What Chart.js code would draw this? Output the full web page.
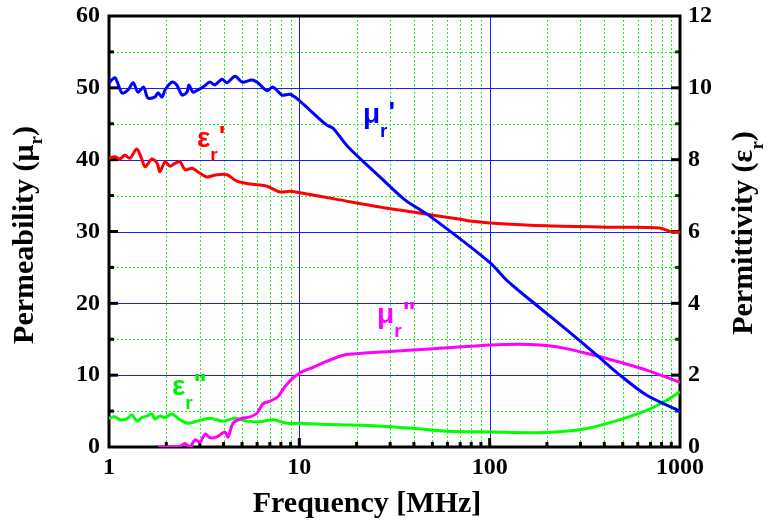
<!DOCTYPE html>
<html>
<head>
<meta charset="utf-8">
<script src="https://cdn.jsdelivr.net/npm/chart.js@4.4.0/dist/chart.umd.min.js"></script>
<style>
  html, body { margin: 0; padding: 0; background: #fff; }
  #wrap { width: 769px; height: 524px; position: relative; }
</style>
</head>
<body>
<div id="wrap"><canvas id="chart"></canvas></div>
<script>
// frequency in MHz
const muRealFreq = [1.0, 1.075, 1.17, 1.26, 1.34, 1.42, 1.52, 1.6, 1.74, 1.81, 1.9, 1.97, 2.14, 2.27, 2.42, 2.57, 2.63, 2.76, 2.93, 3.12, 3.39, 3.6, 3.92, 4.17, 4.59, 5.0, 5.64, 6.06, 6.76, 7.27, 8.1, 8.92, 9.83, 11.35, 13.96, 15.0, 18.0, 26.5, 35.9, 48.7, 100, 123, 177, 254, 365, 484, 669, 1000];
const muRealVals = [50.7, 51.4, 49.3, 49.7, 50.7, 49.4, 50.1, 48.6, 48.7, 49.3, 48.7, 49.7, 50.8, 50.4, 49.0, 49.4, 50.4, 49.4, 49.7, 50.1, 50.8, 50.4, 51.2, 50.7, 51.6, 50.8, 51.1, 50.7, 49.6, 50.1, 49.0, 49.1, 48.4, 46.9, 44.8, 44.4, 41.8, 37.6, 34.4, 32.1, 25.7, 23.2, 19.7, 16.3, 12.8, 10.0, 7.2, 5.0];

const muImagFreq = [1.81, 2.09, 2.36, 2.51, 2.66, 2.83, 3.01, 3.2, 3.39, 3.69, 4.06, 4.22, 4.48, 4.88, 5.51, 5.99, 6.44, 7.02, 7.72, 8.4, 9.24, 10.07, 11.8, 13.3, 15.8, 18.0, 29.9, 39.5, 59.8, 100.6, 144, 183, 242, 350, 484, 669, 1000];
const muImagVals = [0, 0, 0.1, 0.5, 0, 1.0, 0.7, 1.8, 1.3, 1.4, 2.1, 1.4, 3.3, 3.9, 4.2, 4.7, 6.0, 6.4, 7.0, 8.4, 9.6, 10.3, 11.1, 11.7, 12.5, 12.9, 13.3, 13.5, 13.8, 14.2, 14.3, 14.2, 13.8, 12.8, 11.8, 10.7, 9.0];

const epsRealFreq = [1.0, 1.075, 1.14, 1.21, 1.29, 1.4, 1.49, 1.55, 1.68, 1.79, 1.85, 1.97, 2.09, 2.22, 2.36, 2.51, 2.73, 3.01, 3.27, 3.69, 4.17, 4.7, 5.51, 6.76, 7.92, 8.92, 10.07, 16.3, 26.5, 39.5, 70, 78.9, 100, 201, 443, 780, 910, 1000];
const epsRealVals = [8.04, 8.08, 8.02, 8.12, 8.04, 8.3, 8.0, 7.8, 8.02, 7.9, 7.66, 7.94, 7.82, 7.9, 7.94, 7.72, 7.76, 7.62, 7.52, 7.58, 7.58, 7.4, 7.32, 7.26, 7.1, 7.12, 7.08, 6.88, 6.68, 6.54, 6.34, 6.29, 6.24, 6.16, 6.12, 6.1, 5.98, 5.98];

const epsImagFreq = [1.0, 1.075, 1.14, 1.24, 1.32, 1.4, 1.49, 1.58, 1.68, 1.74, 1.85, 1.97, 2.14, 2.36, 2.6, 2.9, 3.39, 3.97, 4.59, 5.31, 6.22, 7.27, 8.63, 10.07, 12.4, 16.3, 26.5, 39.5, 59.8, 100.6, 183, 298, 443, 669, 852, 1000];
const epsImagVals = [0.8, 0.84, 0.76, 0.78, 0.9, 0.72, 0.82, 0.86, 0.92, 0.78, 0.86, 0.82, 0.92, 0.76, 0.66, 0.72, 0.8, 0.72, 0.8, 0.72, 0.7, 0.76, 0.66, 0.66, 0.64, 0.62, 0.58, 0.52, 0.44, 0.42, 0.4, 0.48, 0.7, 1.02, 1.3, 1.54];

const xTicks = [1, 10, 100, 1000];

// curve labels, placed in data coordinates of the left axis
const notes = [
  { base: 'μ', sub: 'r', sup: "'", color: '#0000ff', x: 21.6, y: 45.1 },
  { base: 'ε', sub: 'r', sup: "'", color: '#ff0000', x: 2.9, y: 41.8 },
  { base: 'μ', sub: 'r', sup: '"', color: '#ff00ff', x: 25.6, y: 17.3 },
  { base: 'ε', sub: 'r', sup: '"', color: '#00ee00', x: 2.14, y: 7.24 }
];

const pts = (xs, ys) => xs.map((x, i) => ({ x: x, y: ys[i] }));
const SERIF = '"Liberation Serif", "Times New Roman", serif';
const SANS = '"Liberation Sans", Arial, sans-serif';

function richText(ctx, parts, x, y) {
  let cx = x;
  parts.forEach(p => {
    ctx.font = p.font;
    ctx.fillText(p.t, cx + (p.dx || 0), y + (p.dy || 0));
    cx += ctx.measureText(p.t).width + (p.dx || 0);
  });
}
function richWidth(ctx, parts) {
  let w = 0;
  parts.forEach(p => { ctx.font = p.font; w += ctx.measureText(p.t).width + (p.dx || 0); });
  return w;
}

// grid, frame and inward ticks go under the curves, titles and labels on top
const framePlugin = {
  id: 'frame',
  beforeDatasetsDraw(chart) {
    const { ctx, chartArea: a, scales } = chart;
    const xs = scales.x, ys = scales.y, y2 = scales.y2;
    ctx.save();
    ctx.lineWidth = 1;
    // minor grid, green dotted
    ctx.strokeStyle = '#22ee22';
    ctx.setLineDash([2, 2]);
    [1, 10, 100].forEach(d => {
      for (let k = 2; k <= 9; k++) {
        const px = Math.round(xs.getPixelForValue(d * k)) + 0.5;
        ctx.beginPath(); ctx.moveTo(px, a.top); ctx.lineTo(px, a.bottom); ctx.stroke();
      }
    });
    for (let v = 5; v < 60; v += 10) {
      const py = Math.round(ys.getPixelForValue(v)) + 0.5;
      ctx.beginPath(); ctx.moveTo(a.left, py); ctx.lineTo(a.right, py); ctx.stroke();
    }
    // major grid, blue solid
    ctx.setLineDash([]);
    ctx.strokeStyle = '#1a1aff';
    [10, 100].forEach(v => {
      const px = Math.round(xs.getPixelForValue(v)) + 0.5;
      ctx.beginPath(); ctx.moveTo(px, a.top); ctx.lineTo(px, a.bottom); ctx.stroke();
    });
    for (let v = 10; v < 60; v += 10) {
      const py = Math.round(ys.getPixelForValue(v)) + 0.5;
      ctx.beginPath(); ctx.moveTo(a.left, py); ctx.lineTo(a.right, py); ctx.stroke();
    }

    ctx.strokeStyle = '#000';
    ctx.lineWidth = 3;
    for (let v = 5; v < 60; v += 5) {
      const py = ys.getPixelForValue(v), len = v % 10 === 0 ? 9 : 5;
      ctx.beginPath(); ctx.moveTo(a.left, py); ctx.lineTo(a.left + len, py); ctx.stroke();
    }
    [1, 10, 100].forEach(d => {
      for (let k = 1; k <= 9; k++) {
        if (d * k === 1) continue;
        const px = xs.getPixelForValue(d * k), len = k === 1 ? 9 : 5;
        ctx.beginPath(); ctx.moveTo(px, a.bottom); ctx.lineTo(px, a.bottom - len); ctx.stroke();
      }
    });
    for (let v = 1; v < 12; v++) {
      const py = y2.getPixelForValue(v);
      ctx.strokeStyle = v % 2 === 0 ? '#000' : '#0a4a0a';
      const len = v % 2 === 0 ? 9 : 5;
      ctx.beginPath(); ctx.moveTo(a.right, py); ctx.lineTo(a.right - len, py); ctx.stroke();
    }
    ctx.strokeStyle = '#000';
    ctx.strokeRect(a.left, a.top, a.right - a.left, a.bottom - a.top);
    ctx.restore();
  },
  afterDraw(chart) {
    const { ctx, scales } = chart;
    ctx.save();
    ctx.fillStyle = '#000';
    ctx.textBaseline = 'alphabetic';
    ctx.textAlign = 'left';
    const big = 'bold 30px ' + SERIF, small = 'bold 19px ' + SERIF;
    // x title
    const xt = [{ t: 'Frequency [MHz]', font: big }];
    richText(ctx, xt, 367 - richWidth(ctx, xt) / 2, 512);
    // left title
    const lt = [{ t: 'Permeability (μ', font: big }, { t: 'r', font: small, dy: 9 }, { t: ')', font: big }];
    ctx.save();
    ctx.translate(33, 235); ctx.rotate(-Math.PI / 2);
    richText(ctx, lt, -richWidth(ctx, lt) / 2, 0);
    ctx.restore();
    // right title
    const rt = [{ t: 'Permittivity (ε', font: big }, { t: 'r', font: small, dy: 11 }, { t: ')', font: big }];
    ctx.save();
    ctx.translate(752, 233); ctx.rotate(-Math.PI / 2);
    richText(ctx, rt, -richWidth(ctx, rt) / 2, 0);
    ctx.restore();
    // curve labels
    notes.forEach(n => {
      ctx.fillStyle = n.color;
      const px = scales.x.getPixelForValue(n.x), py = scales.y.getPixelForValue(n.y);
      richText(ctx, [
        { t: n.base, font: 'bold 28px ' + SANS },
        { t: n.sub, font: 'bold 19px ' + SANS, dy: 14, dx: 0 },
        { t: n.sup, font: 'bold 28px ' + SANS, dy: -2, dx: 1 }
      ], px, py);
    });
    ctx.restore();
  }
};

const tickFont = { family: SERIF, size: 24, weight: 'bold' };

new Chart(document.getElementById('chart'), {
  type: 'line',
  data: {
    datasets: [
      { data: pts(muRealFreq, muRealVals), borderColor: '#0000ff', yAxisID: 'y' },
      { data: pts(epsRealFreq, epsRealVals), borderColor: '#ff0000', yAxisID: 'y2' },
      { data: pts(muImagFreq, muImagVals), borderColor: '#ff00ff', yAxisID: 'y' },
      { data: pts(epsImagFreq, epsImagVals), borderColor: '#00ff00', yAxisID: 'y2' }
    ]
  },
  options: {
    responsive: true,
    maintainAspectRatio: false,
    animation: false,
    layout: { padding: { top: 16, left: 0, right: 0, bottom: 0 } },
    elements: {
      line: { borderWidth: 3, tension: 0.3, fill: false },
      point: { radius: 0 }
    },
    plugins: { legend: { display: false }, tooltip: { enabled: false } },
    scales: {
      x: {
        type: 'logarithmic', min: 1, max: 1000,
        grid: { display: false, drawTicks: false }, border: { display: false },
        afterBuildTicks: s => { s.ticks = xTicks.map(v => ({ value: v })); },
        afterFit: s => { s.height = 77; s.paddingLeft = 0; s.paddingRight = 0; },
        ticks: { autoSkip: false, maxRotation: 0, padding: 6, color: '#000', font: tickFont, callback: v => String(v) }
      },
      y: {
        position: 'left', min: 0, max: 60,
        grid: { display: false, drawTicks: false }, border: { display: false },
        afterFit: s => { s.width = 109; s.paddingTop = 0; s.paddingBottom = 0; },
        ticks: { stepSize: 10, padding: 9, color: '#000', font: tickFont }
      },
      y2: {
        position: 'right', min: 0, max: 12,
        grid: { display: false, drawTicks: false }, border: { display: false },
        afterFit: s => { s.width = 89; s.paddingTop = 0; s.paddingBottom = 0; },
        ticks: { stepSize: 2, padding: 8, color: '#000', font: tickFont }
      }
    }
  },
  plugins: [framePlugin]
});
</script>
</body>
</html>
